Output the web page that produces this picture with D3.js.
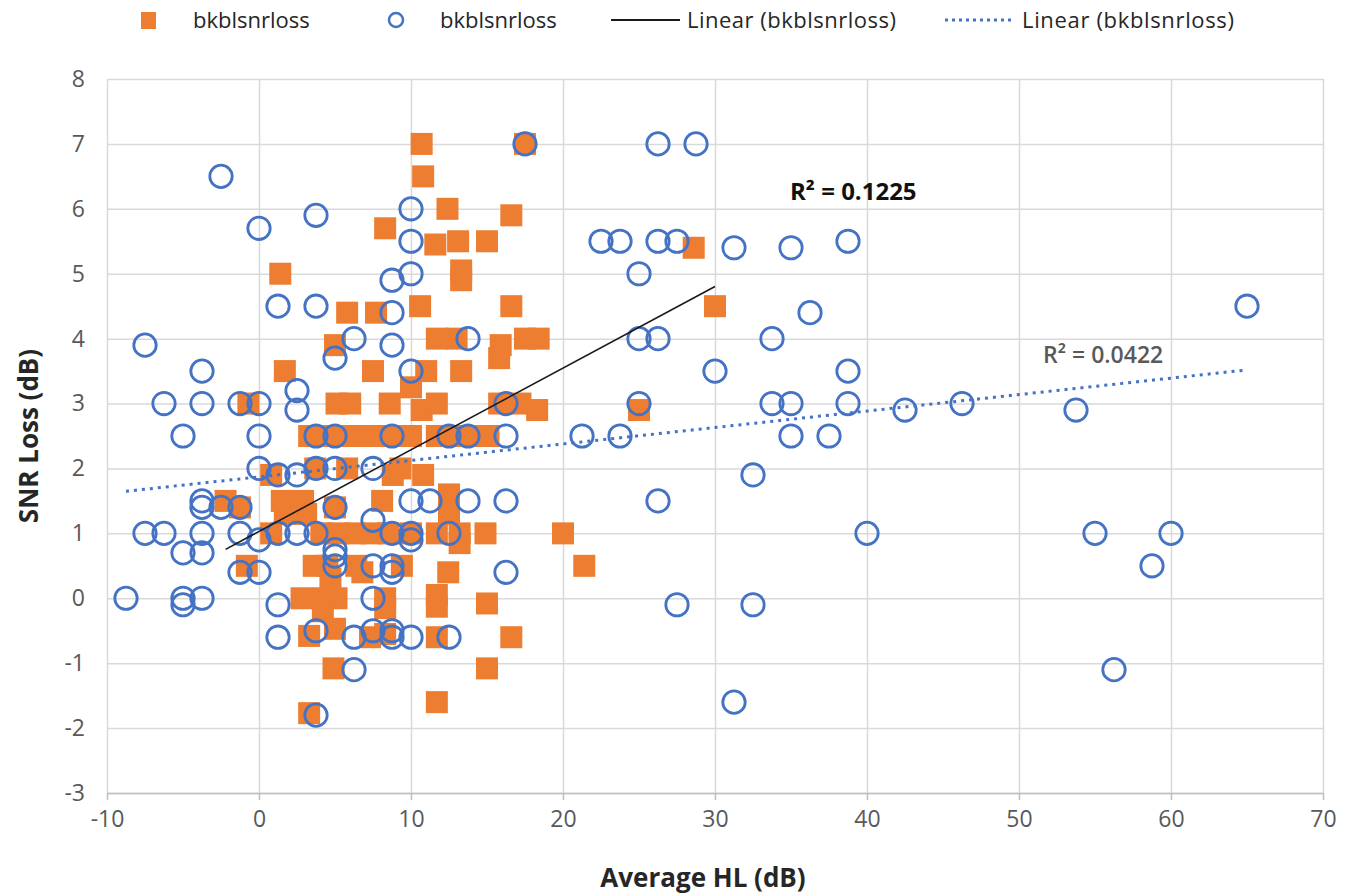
<!DOCTYPE html>
<html>
<head>
<meta charset="utf-8">
<script src="https://cdn.jsdelivr.net/npm/d3@7"></script>
<style>
  body { margin: 0; background: #fff; }
  svg { font-family: "Open Sans", sans-serif; }
</style>
</head>
<body>
<div id="chart"></div>
<script>
// orange filled squares (x = Average HL, y = SNR loss)
const orangePts = [
  [10.7,7.0],[17.5,7.0],[10.8,6.5],[12.4,6.0],[16.6,5.9],[8.3,5.7],[11.6,5.45],[13.1,5.5],[15.0,5.5],[28.6,5.4],
  [1.4,5.0],[13.3,5.05],[13.3,4.9],[5.8,4.4],[7.7,4.4],[10.6,4.5],[16.6,4.5],[30.0,4.5],[5.0,3.9],[11.7,4.0],
  [13.0,4.0],[15.9,3.9],[15.8,3.7],[17.5,4.0],[18.4,4.0],[1.7,3.5],[7.5,3.5],[11.0,3.5],[13.3,3.5],[-0.7,3.0],
  [5.1,3.0],[6.0,3.0],[8.6,3.0],[10.0,3.25],[10.7,2.9],[11.7,3.0],[15.8,3.0],[17.2,3.0],[18.3,2.9],[25.0,2.9],
  [3.3,2.5],[4.4,2.5],[5.8,2.5],[6.9,2.5],[7.9,2.5],[8.9,2.5],[10.0,2.5],[11.7,2.5],[13.0,2.5],[14.3,2.5],[15.1,2.5],
  [0.8,1.9],[3.7,2.0],[5.8,2.0],[8.8,1.9],[9.3,2.0],[10.8,1.9],
  [-2.2,1.5],[-1.25,1.4],[1.5,1.5],[2.9,1.5],[1.7,1.3],[3.1,1.3],[5.0,1.4],[8.1,1.5],[12.5,1.6],[12.5,1.3],
  [0.8,1.0],[4.1,1.0],[5.2,1.0],[6.3,1.0],[7.4,1.0],[8.5,1.0],[10.0,1.0],[11.7,1.0],[13.2,0.85],[13.2,1.0],[14.9,1.0],[20.0,1.0],
  [-0.8,0.5],[3.6,0.5],[4.5,0.5],[4.7,0.3],[6.4,0.5],[6.8,0.4],[9.4,0.5],[12.45,0.4],[21.4,0.5],
  [2.8,0.0],[4.2,0.0],[5.1,0.0],[4.2,-0.2],[8.3,0.0],[8.3,-0.15],[11.7,0.05],[11.7,-0.13],[15.0,-0.08],
  [3.3,-0.58],[5.0,-0.47],[7.3,-0.6],[8.3,-0.55],[11.7,-0.6],[16.6,-0.6],
  [4.9,-1.08],[15.0,-1.08],[3.3,-1.77],[11.7,-1.6]
];

// blue open circles
const bluePts = [
  [17.5,7],[26.25,7],[28.75,7],[-2.5,6.5],[10,6],[3.75,5.9],[0,5.7],
  [10,5.5],[22.5,5.5],[23.75,5.5],[26.25,5.5],[27.5,5.5],[38.75,5.5],[31.25,5.4],[35,5.4],
  [10,5],[25,5],[8.75,4.9],[1.25,4.5],[3.75,4.5],[65,4.5],[8.75,4.4],[36.25,4.4],
  [6.25,4],[13.75,4],[25,4],[26.25,4],[33.75,4],[-7.5,3.9],[8.75,3.9],[5,3.7],
  [-3.75,3.5],[10,3.5],[30,3.5],[38.75,3.5],[2.5,3.2],
  [-6.25,3],[-3.75,3],[-1.25,3],[0,3],[16.25,3],[25,3],[33.75,3],[35,3],[38.75,3],[46.25,3],
  [2.5,2.9],[42.5,2.9],[53.75,2.9],
  [-5,2.5],[0,2.5],[3.75,2.5],[5,2.5],[8.75,2.5],[12.5,2.5],[13.75,2.5],[16.25,2.5],[21.25,2.5],[23.75,2.5],[35,2.5],[37.5,2.5],
  [0,2],[3.75,2],[5,2],[7.5,2],[1.25,1.9],[2.5,1.9],[32.5,1.9],
  [-3.75,1.5],[-3.75,1.4],[-2.5,1.4],[-1.25,1.4],[5,1.4],[10,1.5],[11.25,1.5],[13.75,1.5],[16.25,1.5],[26.25,1.5],[7.5,1.2],
  [-7.5,1],[-6.25,1],[-3.75,1],[-1.25,1],[0,0.9],[1.25,1],[2.5,1],[3.75,1],[8.75,1],[10,1],[10,0.9],[12.5,1],[40,1],[55,1],[60,1],
  [5,0.75],[5,0.65],[5,0.5],[7.5,0.5],[8.75,0.5],[8.75,0.4],[-5,0.7],[-3.75,0.7],[58.75,0.5],
  [0,0.4],[-1.25,0.4],[16.25,0.4],
  [-8.75,0],[-5,0],[-5,-0.1],[-3.75,0],[1.25,-0.1],[7.5,0],[27.5,-0.1],[32.5,-0.1],
  [1.25,-0.6],[3.75,-0.5],[6.25,-0.6],[7.5,-0.5],[8.75,-0.5],[8.75,-0.6],[10,-0.6],[12.5,-0.6],
  [6.25,-1.1],[56.25,-1.1],[3.75,-1.8],[31.25,-1.6]
];

// linear trendlines [slope, intercept] and R² labels
const orangeTrend = [0.1258, 1.03];
const blueTrend = [0.02536, 1.87];
const r2Labels = ["R\u00b2 = 0.1225", "R\u00b2 = 0.0422"];

const xTicks = [-10, 0, 10, 20, 30, 40, 50, 60, 70];
const yTicks = [-3, -2, -1, 0, 1, 2, 3, 4, 5, 6, 7, 8];
const legendLabels = ["bkblsnrloss", "bkblsnrloss", "Linear (bkblsnrloss)", "Linear (bkblsnrloss)"];

const W = 1357, H = 895;
const margin = { top: 79, right: 34, bottom: 102, left: 107 };
const plotW = W - margin.left - margin.right;
const plotH = H - margin.top - margin.bottom;

const orange = "#ED7D31", blue = "#4472C4";

const svg = d3.select("#chart").append("svg")
  .attr("width", W)
  .attr("height", H);

const x = d3.scaleLinear().domain([-10, 70]).range([margin.left, margin.left + plotW]);
const y = d3.scaleLinear().domain([-3, 8]).range([margin.top + plotH, margin.top]);

// grid
svg.append("g")
  .attr("transform", `translate(0, ${margin.top + plotH})`)
  .call(d3.axisBottom(x).tickValues(xTicks).tickSize(-plotH).tickSizeOuter(0).tickFormat(""))
  .call(g => g.select(".domain").remove())
  .selectAll("line").attr("stroke", "#d9d9d9").attr("stroke-width", 1.5);

svg.append("g")
  .attr("transform", `translate(${margin.left}, 0)`)
  .call(d3.axisLeft(y).tickValues(yTicks).tickSize(-plotW).tickSizeOuter(0).tickFormat(""))
  .call(g => g.select(".domain").remove())
  .selectAll("line").attr("stroke", "#d9d9d9").attr("stroke-width", 1.5);

// small tick marks below the x axis
svg.append("g")
  .attr("transform", `translate(0, ${margin.top + plotH})`)
  .call(d3.axisBottom(x).tickValues(xTicks).tickSize(7).tickSizeOuter(0).tickFormat(""))
  .call(g => g.select(".domain").attr("stroke", "#bfbfbf").attr("stroke-width", 1.5))
  .selectAll("line").attr("stroke", "#bfbfbf").attr("stroke-width", 1.5);

// tick labels
const xLab = svg.append("g")
  .attr("transform", `translate(0, ${margin.top + plotH + 15})`)
  .call(d3.axisBottom(x).tickValues(xTicks).tickSize(0).tickFormat(d => String(d)));
xLab.select(".domain").remove();
xLab.selectAll("text").attr("font-size", 23).attr("fill", "#595959").attr("font-family", "Open Sans");

const yLab = svg.append("g")
  .attr("transform", `translate(${margin.left - 19}, 0)`)
  .call(d3.axisLeft(y).tickValues(yTicks).tickSize(0).tickFormat(d => String(d)));
yLab.select(".domain").remove();
yLab.selectAll("text").attr("font-size", 23).attr("fill", "#595959").attr("font-family", "Open Sans");

// axis titles
svg.append("text")
  .attr("x", margin.left + plotW / 2 - 12)
  .attr("y", 887)
  .attr("text-anchor", "middle")
  .attr("font-size", 26)
  .attr("font-weight", "bold")
  .attr("fill", "#262626")
  .text("Average HL (dB)");

svg.append("text")
  .attr("transform", `translate(38, ${margin.top + plotH / 2}) rotate(-90)`)
  .attr("text-anchor", "middle")
  .attr("font-size", 26)
  .attr("font-weight", "bold")
  .attr("fill", "#262626")
  .text("SNR Loss (dB)");

// orange squares
const sq = 22;
svg.append("g").selectAll("rect")
  .data(orangePts)
  .enter()
  .append("rect")
  .attr("x", d => x(d[0]) - sq / 2)
  .attr("y", d => y(d[1]) - sq / 2)
  .attr("width", sq)
  .attr("height", sq)
  .attr("fill", orange);

// blue circles
svg.append("g").selectAll("circle")
  .data(bluePts)
  .enter()
  .append("circle")
  .attr("cx", d => x(d[0]))
  .attr("cy", d => y(d[1]))
  .attr("r", 11.2)
  .attr("fill", "none")
  .attr("stroke", blue)
  .attr("stroke-width", 2.8);

// trendlines over data range
function trendData(pts, t) {
  const ext = d3.extent(pts, d => d[0]);
  return ext.map(v => [v, t[0] * v + t[1]]);
}
const line = d3.line().x(d => x(d[0])).y(d => y(d[1]));

svg.append("path")
  .datum(trendData(orangePts, orangeTrend))
  .attr("d", line)
  .attr("stroke", "#1a1a1a")
  .attr("stroke-width", 1.6)
  .attr("fill", "none");

svg.append("path")
  .datum(trendData(bluePts, blueTrend))
  .attr("d", line)
  .attr("stroke", blue)
  .attr("stroke-width", 3)
  .attr("stroke-dasharray", "3 5")
  .attr("fill", "none");

// R² labels
svg.append("text")
  .attr("x", 790).attr("y", 200)
  .attr("font-size", 24).attr("font-weight", "bold").attr("fill", "#111")
  .text(r2Labels[0]);
svg.append("text")
  .attr("x", 1043).attr("y", 363)
  .attr("font-size", 23).attr("font-weight", 600).attr("fill", "#595959")
  .text(r2Labels[1]);

// legend
const leg = svg.append("g").attr("font-size", 22).attr("fill", "#262626");
leg.append("rect").attr("x", 141).attr("y", 12).attr("width", 15).attr("height", 17).attr("fill", orange);
leg.append("text").attr("x", 193).attr("y", 28).text(legendLabels[0]);
leg.append("circle").attr("cx", 396).attr("cy", 20).attr("r", 7).attr("fill", "none").attr("stroke", blue).attr("stroke-width", 2.5);
leg.append("text").attr("x", 440).attr("y", 28).text(legendLabels[1]);
leg.append("line").attr("x1", 611).attr("x2", 680).attr("y1", 20).attr("y2", 20).attr("stroke", "#1a1a1a").attr("stroke-width", 2);
leg.append("text").attr("x", 687).attr("y", 28).attr("textLength", 209).text(legendLabels[2]);
leg.append("line").attr("x1", 945).attr("x2", 1012).attr("y1", 20).attr("y2", 20).attr("stroke", blue).attr("stroke-width", 3).attr("stroke-dasharray", "3 4");
leg.append("text").attr("x", 1022).attr("y", 28).attr("textLength", 212).text(legendLabels[3]);
</script>
</body>
</html>
